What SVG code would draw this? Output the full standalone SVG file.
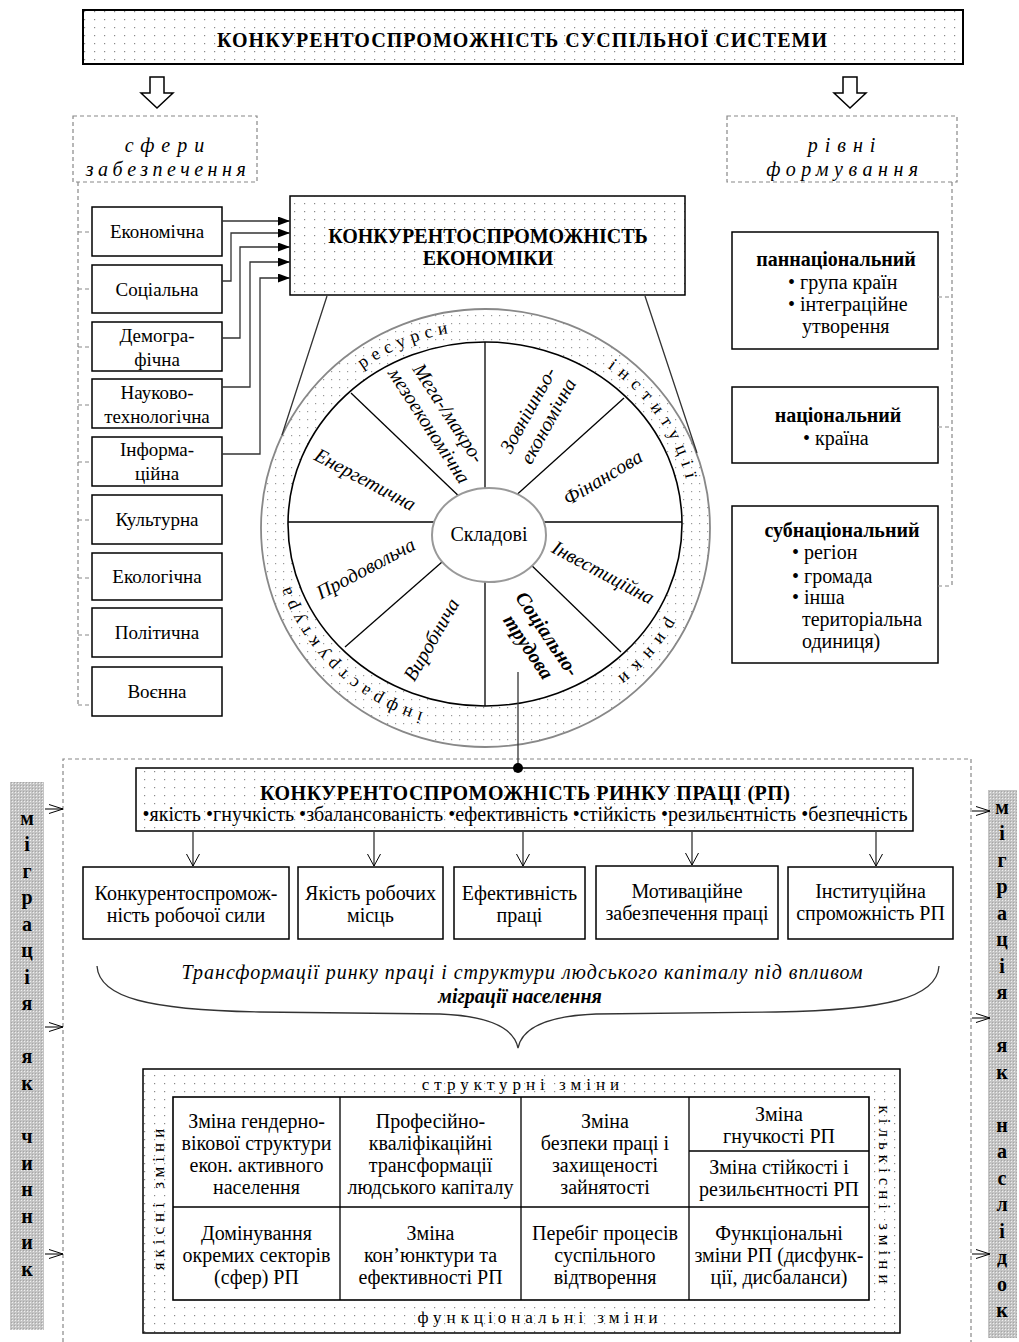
<svg xmlns="http://www.w3.org/2000/svg" width="1019" height="1342" viewBox="0 0 1019 1342">
<defs>
<pattern id="dots" width="10" height="8" patternUnits="userSpaceOnUse"><rect width="10" height="8" fill="#fff"/><rect x="4" y="3" width="1.2" height="1.2" fill="#8a8a8a"/></pattern>
<pattern id="fdots" width="8" height="8" patternUnits="userSpaceOnUse"><rect width="8" height="8" fill="#fff"/><rect x="3" y="3" width="1.2" height="1.2" fill="#999"/></pattern>
<pattern id="tex" width="3" height="3" patternUnits="userSpaceOnUse"><rect width="3" height="3" fill="#c4c4c4"/><rect width="1" height="1" fill="#efefef"/><rect x="2" y="2" width="1" height="1" fill="#a6a6a6"/></pattern>
<marker id="fa" viewBox="0 0 12 9" refX="12" refY="4.5" markerWidth="12" markerHeight="9" markerUnits="userSpaceOnUse" orient="auto"><path d="M0,0 L12,4.5 L0,9 Z" fill="#000"/></marker>
<marker id="va" viewBox="0 0 12 14" refX="12" refY="7" markerWidth="12" markerHeight="14" markerUnits="userSpaceOnUse" orient="auto"><path d="M0,0.5 L12,7 L0,13.5" fill="none" stroke="#000" stroke-width="1"/></marker>
<marker id="sa" viewBox="0 0 14 10" refX="14" refY="5" markerWidth="14" markerHeight="10" markerUnits="userSpaceOnUse" orient="auto"><path d="M0,0.5 L14,5 L0,9.5" fill="none" stroke="#000" stroke-width="1"/></marker>
<path id="ring" d="M280,526 A206,196 0 1,1 692,526 A206,196 0 1,1 280,526"/>
</defs>
<style>
.t{font-family:"Liberation Serif","Times New Roman",serif;font-size:20px;fill:#000}
.s{font-size:19px}
.b{font-weight:bold}
.i{font-style:italic}
.m{text-anchor:middle}
.box{fill:#fff;stroke:#000;stroke-width:1.5}
.dash{fill:none;stroke:#888;stroke-width:1.2;stroke-dasharray:4 3}
.ln{fill:none;stroke:#333;stroke-width:1.3}
.sp{fill:none;stroke:#000;stroke-width:1.3}
.col{font-family:"Liberation Serif","Times New Roman",serif;font-size:20px;font-weight:bold;text-anchor:middle;fill:#000}
.rt{font-family:"Liberation Serif","Times New Roman",serif;font-size:18px;fill:#000}
.gt{font-family:"Liberation Serif","Times New Roman",serif;font-size:17px;fill:#000;letter-spacing:5px}
</style>
<rect width="1019" height="1342" fill="#fff"/>

<g id="title">
<rect x="83" y="10" width="880" height="54" fill="url(#dots)" stroke="#000" stroke-width="2"/>
<text class="t b m" x="522" y="47" font-size="21" textLength="610" lengthAdjust="spacing">КОНКУРЕНТОСПРОМОЖНІСТЬ  СУСПІЛЬНОЇ  СИСТЕМИ</text>
</g>

<g id="spheres-label">
<rect x="73" y="116" width="184" height="66" fill="#fff" class="dash"/>
<text class="t i m" x="168" y="152" letter-spacing="7">сфери</text>
<text class="t i m" x="168" y="176" letter-spacing="4.5">забезпечення</text>
</g>
<g id="levels-label">
<rect x="727" y="116" width="230" height="66" fill="#fff" class="dash"/>
<text class="t i m" x="845" y="152" letter-spacing="7">рівні</text>
<text class="t i m" x="845" y="176" letter-spacing="5.5">формування</text>
</g>

<g id="econ">
<rect x="290" y="196" width="395" height="99" fill="url(#dots)" stroke="#000" stroke-width="1.5"/>
<text class="t b m" x="488" y="243" font-size="21">КОНКУРЕНТОСПРОМОЖНІСТЬ</text>
<text class="t b m" x="488" y="265" font-size="21">ЕКОНОМІКИ</text>
</g>

<g id="sphere-boxes">
<g id="s-econ"><rect class="box" x="92" y="207" width="130" height="49"/><text class="t s m" x="157" y="238">Економічна</text></g>
<g id="s-soc"><rect class="box" x="92" y="265" width="130" height="48"/><text class="t s m" x="157" y="296">Соціальна</text></g>
<g id="s-dem"><rect class="box" x="92" y="322" width="130" height="49"/><text class="t s m" x="157" y="342">Демогра-</text><text class="t s m" x="157" y="366">фічна</text></g>
<g id="s-sci"><rect class="box" x="92" y="379" width="130" height="49"/><text class="t s m" x="157" y="399">Науково-</text><text class="t s m" x="157" y="423">технологічна</text></g>
<g id="s-inf"><rect class="box" x="92" y="437" width="130" height="49"/><text class="t s m" x="157" y="456">Інформа-</text><text class="t s m" x="157" y="480">ційна</text></g>
<g id="s-cul"><rect class="box" x="92" y="495" width="130" height="49"/><text class="t s m" x="157" y="526">Культурна</text></g>
<g id="s-eco"><rect class="box" x="92" y="553" width="130" height="47"/><text class="t s m" x="157" y="583">Екологічна</text></g>
<g id="s-pol"><rect class="box" x="92" y="608" width="130" height="49"/><text class="t s m" x="157" y="639">Політична</text></g>
<g id="s-mil"><rect class="box" x="92" y="667" width="130" height="49"/><text class="t s m" x="157" y="698">Воєнна</text></g>
</g>

<g id="level-boxes">
<g id="l-pan"><rect class="box" x="732" y="232" width="206" height="117"/>
<text class="t b m" x="836" y="266" font-size="22">паннаціональний</text>
<text class="t" x="788" y="289">• група країн</text>
<text class="t" x="788" y="311">• інтеграційне</text>
<text class="t" x="802" y="333">утворення</text></g>
<g id="l-nat"><rect class="box" x="732" y="387" width="206" height="76"/>
<text class="t b m" x="838" y="422" font-size="22">національний</text>
<text class="t" x="803" y="445">• країна</text></g>
<g id="l-sub"><rect class="box" x="732" y="506" width="206" height="157"/>
<text class="t b m" x="842" y="537" font-size="22">субнаціональний</text>
<text class="t" x="792" y="559">• регіон</text>
<text class="t" x="792" y="583">• громада</text>
<text class="t" x="792" y="604">• інша</text>
<text class="t" x="802" y="626">територіальна</text>
<text class="t" x="802" y="648">одиниця)</text></g>
</g>

<g id="wheel">
<ellipse cx="485.5" cy="528" rx="224.5" ry="219" fill="url(#fdots)" stroke="#888" stroke-width="1.8"/>
<ellipse cx="485" cy="524" rx="197" ry="182" fill="#fff" stroke="#000" stroke-width="1.6"/>
<line class="sp" x1="485" y1="342" x2="485" y2="500"/>
<line class="sp" x1="485" y1="706" x2="485" y2="570"/>
<line class="sp" x1="288" y1="522" x2="445" y2="522"/>
<line class="sp" x1="682" y1="522" x2="535" y2="522"/>
<line class="sp" x1="351" y1="393" x2="465" y2="502"/>
<line class="sp" x1="624" y1="398" x2="512" y2="499"/>
<line class="sp" x1="345" y1="647" x2="450" y2="555"/>
<line class="sp" x1="621" y1="652" x2="527" y2="561"/>
<g id="center"><ellipse cx="489" cy="535" rx="57" ry="47" fill="#fff" stroke="#999" stroke-width="2"/>
<text class="t m" x="489" y="541">Складові</text></g>
<g id="segments">
<text class="t i m" transform="translate(438,420) rotate(57)"><tspan x="0" y="-6">Мега-/макро-</tspan><tspan x="0" y="17">мезоекономічна</tspan></text>
<text class="t i m" transform="translate(539,416) rotate(-61)"><tspan x="0" y="-6">Зовнішньо-</tspan><tspan x="0" y="17">економічна</tspan></text>
<text class="t i m" transform="translate(365,480) rotate(28)" y="6">Енергетична</text>
<text class="t i m" transform="translate(603,478) rotate(-31)" y="6">Фінансова</text>
<text class="t i m" transform="translate(366,569) rotate(-28)" y="6">Продовольча</text>
<text class="t i m" transform="translate(603,573) rotate(28)" y="6">Інвестиційна</text>
<text class="t i m" transform="translate(432,640) rotate(-60)" y="6">Виробнича</text>
<text class="t i b m" transform="translate(537,641) rotate(56)"><tspan x="0" y="-6">Соціально-</tspan><tspan x="0" y="17">трудова</tspan></text>
</g>
<g id="ring-text">
<text class="rt" text-anchor="middle" letter-spacing="5.5"><textPath href="#ring" startOffset="18.5%">ресурси</textPath></text>
<text class="rt" text-anchor="middle" letter-spacing="7"><textPath href="#ring" startOffset="41%">інституції</textPath></text>
<text class="rt" text-anchor="middle" letter-spacing="8"><textPath href="#ring" startOffset="61%">ринки</textPath></text>
<text class="rt" text-anchor="middle" letter-spacing="5.5"><textPath href="#ring" startOffset="87.8%">інфраструктура</textPath></text>
</g>
</g>

<g id="rp-frame"><path class="dash" d="M63,1342 V759 H971 V1342"/></g>

<g id="rp">
<rect x="136" y="768" width="777" height="63" fill="url(#dots)" stroke="#000" stroke-width="1.5"/>
<text class="t b m" x="525" y="800" font-size="21" textLength="530" lengthAdjust="spacing">КОНКУРЕНТОСПРОМОЖНІСТЬ РИНКУ ПРАЦІ (РП)</text>
<text class="t m" x="525" y="821" font-size="17" textLength="765" lengthAdjust="spacing">•якість •гнучкість •збалансованість •ефективність •стійкість •резильєнтність •безпечність</text>
</g>

<g id="rp-items">
<g id="r1"><rect class="box" x="83" y="867" width="206" height="72"/><text class="t m" x="186" y="900">Конкурентоспромож-</text><text class="t m" x="186" y="922">ність робочої сили</text></g>
<g id="r2"><rect class="box" x="298" y="867" width="145" height="72"/><text class="t m" x="370.5" y="900">Якість робочих</text><text class="t m" x="370.5" y="922">місць</text></g>
<g id="r3"><rect class="box" x="454" y="867" width="131" height="72"/><text class="t m" x="519.5" y="900">Ефективність</text><text class="t m" x="519.5" y="922">праці</text></g>
<g id="r4"><rect class="box" x="596" y="866" width="182" height="73"/><text class="t m" x="687" y="898">Мотиваційне</text><text class="t m" x="687" y="920">забезпечення праці</text></g>
<g id="r5"><rect class="box" x="788" y="867" width="165" height="72"/><text class="t m" x="870.5" y="898">Інституційна</text><text class="t m" x="870.5" y="920">спроможність РП</text></g>
</g>

<g id="brace-label">
<text class="t i m" x="522" y="979" font-size="21" textLength="681" lengthAdjust="spacing">Трансформації ринку праці і структури людського капіталу під впливом</text>
<text class="t i b m" x="520" y="1003" font-size="21">міграції населення</text>
</g>

<g id="changes">
<rect x="143" y="1069" width="757" height="264" fill="url(#dots)" stroke="#000" stroke-width="1.5"/>
<text class="gt m" x="523" y="1090">структурні  зміни</text>
<text class="gt m" x="540" y="1323">функціональні  зміни</text>
<text class="gt m" transform="translate(164,1197) rotate(-90)">якісні  зміни</text>
<text class="gt m" transform="translate(879,1197) rotate(90)">кількісні  зміни</text>
<rect x="173" y="1097" width="696" height="203" fill="#fff" stroke="#000" stroke-width="1.6"/>
<path class="sp" d="M340,1097 V1300 M521,1097 V1300 M689,1097 V1300 M173,1207 H869 M689,1151 H869"/>
<g id="c1"><text class="t m" x="256.5" y="1128">Зміна гендерно-</text><text class="t m" x="256.5" y="1150">вікової структури</text><text class="t m" x="256.5" y="1172">екон. активного</text><text class="t m" x="256.5" y="1194">населення</text></g>
<g id="c2"><text class="t m" x="430.5" y="1128">Професійно-</text><text class="t m" x="430.5" y="1150">кваліфікаційні</text><text class="t m" x="430.5" y="1172">трансформації</text><text class="t m" x="430.5" y="1194">людського капіталу</text></g>
<g id="c3"><text class="t m" x="605" y="1128">Зміна</text><text class="t m" x="605" y="1150">безпеки праці і</text><text class="t m" x="605" y="1172">захищеності</text><text class="t m" x="605" y="1194">зайнятості</text></g>
<g id="c4"><text class="t m" x="779" y="1121">Зміна</text><text class="t m" x="779" y="1143">гнучкості РП</text></g>
<g id="c5"><text class="t m" x="779" y="1174">Зміна стійкості і</text><text class="t m" x="779" y="1196">резильєнтності РП</text></g>
<g id="c6"><text class="t m" x="256.5" y="1240">Домінування</text><text class="t m" x="256.5" y="1262">окремих секторів</text><text class="t m" x="256.5" y="1284">(сфер) РП</text></g>
<g id="c7"><text class="t m" x="430.5" y="1240">Зміна</text><text class="t m" x="430.5" y="1262">кон’юнктури та</text><text class="t m" x="430.5" y="1284">ефективності РП</text></g>
<g id="c8"><text class="t m" x="605" y="1240">Перебіг процесів</text><text class="t m" x="605" y="1262">суспільного</text><text class="t m" x="605" y="1284">відтворення</text></g>
<g id="c9"><text class="t m" x="779" y="1240">Функціональні</text><text class="t m" x="779" y="1262">зміни РП (дисфунк-</text><text class="t m" x="779" y="1284">ції, дисбаланси)</text></g>
</g>

<g id="migration-factor">
<rect x="10" y="782" width="34" height="548" fill="url(#tex)"/>
<text class="col"><tspan x="27" y="825">м</tspan><tspan x="27" y="851">і</tspan><tspan x="27" y="878">г</tspan><tspan x="27" y="904">р</tspan><tspan x="27" y="931">а</tspan><tspan x="27" y="957">ц</tspan><tspan x="27" y="984">і</tspan><tspan x="27" y="1010">я</tspan><tspan x="27" y="1063">я</tspan><tspan x="27" y="1090">к</tspan><tspan x="27" y="1143">ч</tspan><tspan x="27" y="1170">и</tspan><tspan x="27" y="1196">н</tspan><tspan x="27" y="1223">н</tspan><tspan x="27" y="1249">и</tspan><tspan x="27" y="1276">к</tspan></text>
</g>
<g id="migration-result">
<rect x="988" y="790" width="29" height="548" fill="url(#tex)"/>
<text class="col"><tspan x="1002" y="814">м</tspan><tspan x="1002" y="840">і</tspan><tspan x="1002" y="867">г</tspan><tspan x="1002" y="893">р</tspan><tspan x="1002" y="920">а</tspan><tspan x="1002" y="946">ц</tspan><tspan x="1002" y="973">і</tspan><tspan x="1002" y="999">я</tspan><tspan x="1002" y="1052">я</tspan><tspan x="1002" y="1079">к</tspan><tspan x="1002" y="1132">н</tspan><tspan x="1002" y="1158">а</tspan><tspan x="1002" y="1185">с</tspan><tspan x="1002" y="1211">л</tspan><tspan x="1002" y="1238">і</tspan><tspan x="1002" y="1264">д</tspan><tspan x="1002" y="1291">о</tspan><tspan x="1002" y="1317">к</tspan></text>
</g>

<g id="connectors">
<path d="M150,77 H164 V93 H173 L157,108 L141,93 H150 Z" fill="#fff" stroke="#000" stroke-width="1.5"/>
<path d="M843,77 H857 V93 H866 L850,108 L834,93 H843 Z" fill="#fff" stroke="#000" stroke-width="1.5"/>
<path class="dash" d="M78,182 V705 M78,232 H92 M78,289 H92 M78,347 H92 M78,405 H92 M78,462 H92 M78,520 H92 M78,578 H92 M78,635 H92 M78,705 H92"/>
<path class="dash" d="M952,182 V586 M938,297 H952 M938,427 H952 M938,586 H952"/>
<path class="ln" d="M222,221 H290" marker-end="url(#fa)"/>
<path class="ln" d="M222,281 H231 V233 H290" marker-end="url(#fa)"/>
<path class="ln" d="M222,338 H240 V247 H290" marker-end="url(#fa)"/>
<path class="ln" d="M222,387 H250 V262 H290" marker-end="url(#fa)"/>
<path class="ln" d="M222,454 H260 V278 H290" marker-end="url(#fa)"/>
<path class="ln" d="M327,296 L282,435 M645,296 L697,453" stroke-width="1"/>
<path class="ln" d="M518,672 V768" stroke="#000"/>
<circle cx="518" cy="768" r="5" fill="#000"/>
<path class="ln" stroke="#000" stroke-width="1" d="M193,832 V866" marker-end="url(#va)"/>
<path class="ln" stroke="#000" stroke-width="1" d="M374,832 V866" marker-end="url(#va)"/>
<path class="ln" stroke="#000" stroke-width="1" d="M523,832 V866" marker-end="url(#va)"/>
<path class="ln" stroke="#000" stroke-width="1" d="M692,832 V865" marker-end="url(#va)"/>
<path class="ln" stroke="#000" stroke-width="1" d="M876,832 V866" marker-end="url(#va)"/>
<path class="ln" stroke="#000" stroke-width="1" d="M45,809 H63" marker-end="url(#sa)"/>
<path class="ln" stroke="#000" stroke-width="1" d="M45,1027 H63" marker-end="url(#sa)"/>
<path class="ln" stroke="#000" stroke-width="1" d="M45,1254 H63" marker-end="url(#sa)"/>
<path class="ln" stroke="#000" stroke-width="1" d="M972,811 H990" marker-end="url(#sa)"/>
<path class="ln" stroke="#000" stroke-width="1" d="M972,1018 H990" marker-end="url(#sa)"/>
<path class="ln" stroke="#000" stroke-width="1" d="M972,1254 H990" marker-end="url(#sa)"/>
<path class="ln" stroke="#000" stroke-width="1.2" d="M97,966 C99,998 150,1010 260,1012 L440,1014 C490,1016 514,1028 518,1048 C522,1028 546,1016 596,1014 L776,1012 C886,1010 937,998 939,966"/>
</g>
</svg>
